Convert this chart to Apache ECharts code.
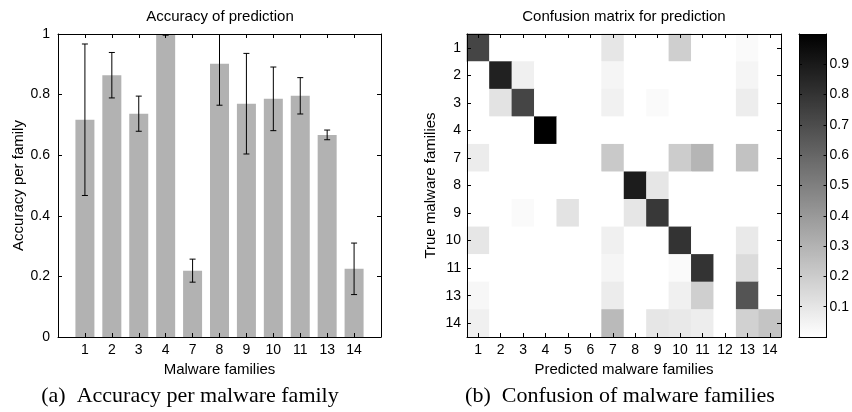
<!DOCTYPE html>
<html>
<head>
<meta charset="utf-8">
<script src="https://cdn.jsdelivr.net/npm/echarts@6/dist/echarts.min.js"></script>
<style>html,body{margin:0;padding:0;background:#fff}#c{width:852px;height:412px}</style>
</head>
<body>
<div id="c"></div>
<script>
// ---- data ----
const families = ['1','2','3','4','7','8','9','10','11','13','14'];
const accuracy = [0.717,0.864,0.737,0.998,0.219,0.902,0.770,0.786,0.796,0.667,0.225];
const accStd   = [0.250,0.075,0.058,0.002,0.038,0.137,0.166,0.105,0.060,0.016,0.085];
const predictedLabels = ['1','2','3','4','5','6','7','8','9','10','11','12','13','14'];
const trueLabels = families;
const confusion = [
  [0.73,0,0,0,0,0,0.10,0,0,0.19,0,0,0.02,0],
  [0,0.87,0.06,0,0,0,0.04,0,0,0,0,0,0.04,0],
  [0,0.11,0.73,0,0,0,0.055,0,0.02,0,0,0,0.07,0],
  [0,0,0,1.0,0,0,0,0,0,0,0,0,0,0],
  [0.075,0,0,0,0,0,0.21,0,0,0.20,0.29,0,0.24,0],
  [0,0,0,0,0,0,0,0.89,0.10,0,0,0,0,0],
  [0,0,0.02,0,0.11,0,0,0.10,0.78,0,0,0,0,0],
  [0.10,0,0,0,0,0,0.06,0,0,0.80,0,0,0.085,0],
  [0,0,0,0,0,0,0.04,0,0,0.02,0.80,0,0.14,0],
  [0.03,0,0,0,0,0,0.075,0,0,0.06,0.19,0,0.67,0],
  [0.06,0,0,0,0,0,0.27,0,0.10,0.085,0.07,0,0.18,0.23]
];
const colorbarTicks = [0.1,0.2,0.3,0.4,0.5,0.6,0.7,0.8,0.9];

// ---- chart ----
const SANS = "'Liberation Sans', Arial, Helvetica, sans-serif";
const SERIF = "'Liberation Serif', 'Times New Roman', serif";
const chart = echarts.init(document.getElementById('c'), null, {renderer:'canvas'});

const barData = families.map((f,i)=>[i+1, accuracy[i]]);
const errData = families.map((f,i)=>[i+1, accuracy[i], accStd[i]]);
const heatData = [];
confusion.forEach((row,r)=>row.forEach((v,c)=>heatData.push([c, r, v])));

const tickIn = {show:true, inside:true, length:4, lineStyle:{color:'#000', width:1}};
const lineBlack = {show:true, onZero:false, lineStyle:{color:'#000', width:1}};
const lab = {color:'#000', fontFamily:SANS, fontSize:14};
const nameStyle = {color:'#000', fontFamily:SANS, fontSize:15};

const option = {
  animation:false,
  backgroundColor:'#fff',
  grid:[
    {left:58, top:34, width:323, height:303},
    {left:467, top:34, width:314, height:303},
    {left:799, top:34, width:28, height:303}
  ],
  xAxis:[
    {gridIndex:0, type:'value', min:0, max:12, interval:1, position:'bottom', z:10,
     axisLine:lineBlack, axisTick:tickIn, splitLine:{show:false},
     axisLabel:Object.assign({margin:6, formatter:v=>families[v-1]||''}, lab),
     name:'Malware families', nameLocation:'middle', nameGap:23, nameTextStyle:nameStyle},
    {gridIndex:0, type:'value', min:0, max:12, interval:1, position:'top', z:10,
     axisLine:lineBlack, axisTick:tickIn, splitLine:{show:false}, axisLabel:{show:false}},
    {gridIndex:1, type:'category', data:predictedLabels, position:'bottom', z:10,
     axisLine:lineBlack, axisTick:Object.assign({alignWithLabel:true}, tickIn), splitLine:{show:false},
     axisLabel:Object.assign({margin:6, interval:0}, lab),
     name:'Predicted malware families', nameLocation:'middle', nameGap:23, nameTextStyle:nameStyle},
    {gridIndex:1, type:'category', data:predictedLabels, position:'top', z:10,
     axisLine:lineBlack, axisTick:Object.assign({alignWithLabel:true}, tickIn), splitLine:{show:false}, axisLabel:{show:false}},
    {gridIndex:2, type:'value', min:0, max:1, position:'bottom', z:10,
     axisLine:lineBlack, axisTick:{show:false}, splitLine:{show:false}, axisLabel:{show:false}},
    {gridIndex:2, type:'value', min:0, max:1, position:'top', z:10,
     axisLine:lineBlack, axisTick:{show:false}, splitLine:{show:false}, axisLabel:{show:false}}
  ],
  yAxis:[
    {gridIndex:0, type:'value', min:0, max:1, interval:0.2, position:'left', z:10,
     axisLine:lineBlack, axisTick:tickIn, splitLine:{show:false},
     axisLabel:Object.assign({margin:8}, lab),
     name:'Accuracy per family', nameLocation:'middle', nameGap:30, nameTextStyle:nameStyle},
    {gridIndex:0, type:'value', min:0, max:1, interval:0.2, position:'right', z:10,
     axisLine:lineBlack, axisTick:tickIn, splitLine:{show:false}, axisLabel:{show:false}},
    {gridIndex:1, type:'category', data:trueLabels, inverse:true, position:'left', z:10,
     axisLine:lineBlack, axisTick:Object.assign({alignWithLabel:true}, tickIn), splitLine:{show:false},
     axisLabel:Object.assign({margin:6, interval:0}, lab),
     name:'True malware families', nameLocation:'middle', nameGap:29, nameTextStyle:nameStyle},
    {gridIndex:1, type:'category', data:trueLabels, inverse:true, position:'right', z:10,
     axisLine:lineBlack, axisTick:Object.assign({alignWithLabel:true}, tickIn), splitLine:{show:false}, axisLabel:{show:false}},
    {gridIndex:2, type:'value', min:0, max:1, interval:0.1, position:'left', z:10,
     axisLine:lineBlack, axisTick:Object.assign({}, tickIn, {length:3}), splitLine:{show:false}, axisLabel:{show:false}},
    {gridIndex:2, type:'value', min:0, max:1, interval:0.1, position:'right', z:10,
     axisLine:lineBlack, axisTick:Object.assign({}, tickIn, {length:3}), splitLine:{show:false},
     axisLabel:Object.assign({margin:3, formatter:v=>colorbarTicks.some(t=>Math.abs(t-v)<1e-6)?v.toFixed(1):''}, lab)}
  ],
  visualMap:{
    type:'continuous', min:0, max:1, seriesIndex:2, orient:'vertical',
    left:799, top:34, itemWidth:28, itemHeight:303, padding:0,
    calculable:false, hoverLink:false, text:null, showLabel:false,
    inRange:{color:['#ffffff','#000000']}, z:2
  },
  series:[
    {type:'bar', xAxisIndex:0, yAxisIndex:0, data:barData, barWidth:19,
     itemStyle:{color:'#b2b2b2'}, z:2},
    {type:'custom', xAxisIndex:0, yAxisIndex:0, data:errData, clip:true, z:3,
     renderItem:function(params, api){
       const x = api.value(0), m = api.value(1), s = api.value(2);
       const top = api.coord([x, m+s]);
       const bot = api.coord([x, m-s]);
       const hw = 3;
       const st = {stroke:'#000', lineWidth:1};
       return {type:'group', children:[
         {type:'line', shape:{x1:top[0], y1:top[1], x2:bot[0], y2:bot[1]}, style:st},
         {type:'line', shape:{x1:top[0]-hw, y1:top[1], x2:top[0]+hw, y2:top[1]}, style:st},
         {type:'line', shape:{x1:bot[0]-hw, y1:bot[1], x2:bot[0]+hw, y2:bot[1]}, style:st}
       ]};
     }},
    {type:'heatmap', xAxisIndex:2, yAxisIndex:2, data:heatData, z:2,
     itemStyle:{borderWidth:0}, emphasis:{disabled:true}}
  ],
  graphic:[
    {type:'text', x:220, y:17, style:{text:'Accuracy of prediction', font:'15px '+SANS, fill:'#000', align:'center', verticalAlign:'middle', textAlign:'center', textVerticalAlign:'middle'}},
    {type:'text', x:624, y:17, style:{text:'Confusion matrix for prediction', font:'15px '+SANS, fill:'#000', align:'center', verticalAlign:'middle', textAlign:'center', textVerticalAlign:'middle'}},
    {type:'text', x:190, y:396, style:{text:'(a)  Accuracy per malware family', font:'22px '+SERIF, fill:'#000', align:'center', verticalAlign:'middle', textAlign:'center', textVerticalAlign:'middle'}},
    {type:'text', x:620, y:396, style:{text:'(b)  Confusion of malware families', font:'22px '+SERIF, fill:'#000', align:'center', verticalAlign:'middle', textAlign:'center', textVerticalAlign:'middle'}}
  ]
};
chart.setOption(option);
</script>
</body>
</html>
